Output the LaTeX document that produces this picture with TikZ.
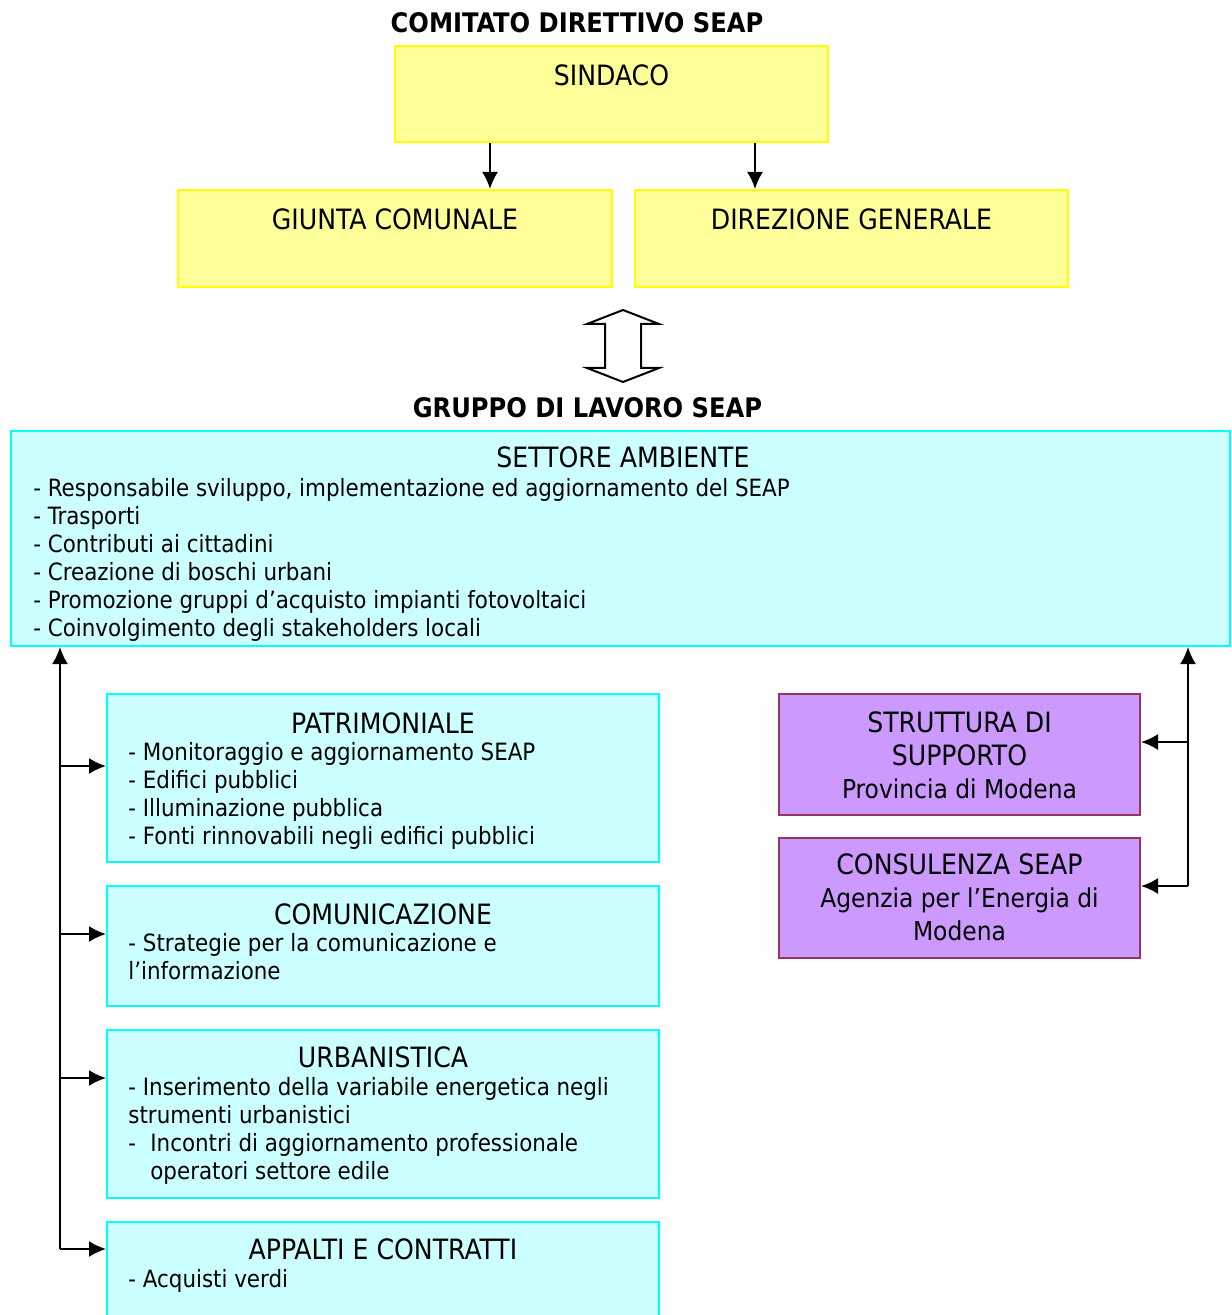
\documentclass[tikz,border=0pt]{standalone}
\usepackage{fontspec}
\setmainfont{DejaVu Sans Condensed}
\usetikzlibrary{calc,positioning,arrows.meta}

\definecolor{yfill}{HTML}{FFFF99}
\definecolor{yline}{HTML}{FFFF00}
\definecolor{cfill}{HTML}{CCFFFF}
\definecolor{cline}{HTML}{00FFFF}
\definecolor{pfill}{HTML}{CC99FF}
\definecolor{pline}{HTML}{993366}

\newcommand{\bodysize}{\fontsize{11.9}{14}\selectfont}
\newcommand{\titlesize}{\fontsize{14}{16.5}\selectfont}
\newcommand{\subsize}{\fontsize{13}{16.5}\selectfont}
\newcommand{\headsize}{\fontsize{13.45}{16.5}\selectfont}

\begin{document}
\begin{tikzpicture}[x=0.5pt,y=-0.5pt]

\tikzstyle{ybox} = [rectangle, draw=yline, fill=yfill, line width=1pt, inner sep=0]
\tikzstyle{cbox} = [rectangle, draw=cline, fill=cfill, line width=1pt, inner sep=0]
\tikzstyle{pbox} = [rectangle, draw=pline, fill=pfill, line width=1pt, inner sep=0]
\tikzstyle{head} = [anchor=base, inner sep=0, font=\bfseries\headsize]
\tikzstyle{ttl} = [anchor=base, inner sep=0, font=\titlesize]
\tikzstyle{sub} = [anchor=base, inner sep=0, font=\subsize]
\tikzstyle{itm} = [anchor=base west, inner sep=0, font=\bodysize]
\tikzstyle{orgarc} = [-{Latex[length=8.5pt,width=8pt]}, line width=1pt]

\useasboundingbox (0,0) rectangle (1231,1315);

% comitato direttivo
\node[head] (comitato) at (577,33) {COMITATO DIRETTIVO SEAP};
\node[ybox, minimum width=216.5pt, minimum height=48pt] (sindaco) at (611.5,94) {};
\node[ybox, minimum width=217pt, minimum height=48.5pt] (giunta) at (395,238.5) {};
\node[ybox, minimum width=216.5pt, minimum height=48.5pt] (direzione) at (851.5,238.5) {};
\node[ttl] (sindaco-t) at (611.5,86) {SINDACO};
\node[ttl] (giunta-t) at (395,230) {GIUNTA COMUNALE};
\node[ttl] (direzione-t) at (851.5,230) {DIREZIONE GENERALE};

\coordinate (down1) at (490,0);
\coordinate (down2) at (755,0);
\draw[orgarc] (sindaco.south -| down1) -- (giunta.north -| down1);
\draw[orgarc] (sindaco.south -| down2) -- (direzione.north -| down2);

% double arrow
\draw[line width=1pt] (623,310) -- (659,324) -- (641,324) -- (641,368) -- (659,368)
    -- (623,382) -- (587,368) -- (605,368) -- (605,324) -- (587,324) -- cycle;

% gruppo di lavoro
\node[head] (gruppo) at (587.5,418) {GRUPPO DI LAVORO SEAP};
\node[cbox, minimum width=609.5pt, minimum height=107.5pt] (ambiente) at (620.5,538.5) {};
\node[ttl] (ambiente-t) at (623,467) {SETTORE AMBIENTE};
\begin{scope}
\clip (12,432) rectangle (1229,640);
\foreach \t [count=\i from 0] in {{- Responsabile sviluppo, implementazione ed aggiornamento del SEAP},
    {- Trasporti}, {- Contributi ai cittadini}, {- Creazione di boschi urbani},
    {- Promozione gruppi d’acquisto impianti fotovoltaici},
    {- Coinvolgimento degli stakeholders locali}}
  \node[itm] (ambiente-\i) at (33,496+28*\i) {\t};
\end{scope}

\node[cbox, minimum width=276pt, minimum height=84pt] (patr) at (383,778) {};
\node[ttl] (patr-t) at (383,733) {PATRIMONIALE};
\foreach \t [count=\i from 0] in {{- Monitoraggio e aggiornamento SEAP}, {- Edifici pubblici},
    {- Illuminazione pubblica}, {- Fonti rinnovabili negli edifici pubblici}}
  \node[itm] (patr-\i) at (128,760+28*\i) {\t};

\node[cbox, minimum width=276pt, minimum height=60pt] (comun) at (383,946) {};
\node[ttl] (comun-t) at (383,924) {COMUNICAZIONE};
\node[itm] (comun-0) at (128,951) {- Strategie per la comunicazione e};
\node[itm] (comun-1) at (128,979) {l’informazione};

\node[cbox, minimum width=276pt, minimum height=84pt] (urban) at (383,1114) {};
\node[ttl] (urban-t) at (383,1067) {URBANISTICA};
\node[itm] (urban-0) at (128,1095) {- Inserimento della variabile energetica negli};
\node[itm] (urban-1) at (128,1123) {strumenti urbanistici};
\node[itm] (urban-2) at (128,1151) {-};
\node[itm] (urban-3) at (150,1151) {Incontri di aggiornamento professionale};
\node[itm] (urban-4) at (150,1179) {operatori settore edile};

\node[cbox, minimum width=276pt, minimum height=60pt] (appalti) at (383,1282) {};
\node[ttl] (appalti-t) at (383,1259) {APPALTI E CONTRATTI};
\node[itm] (appalti-0) at (128,1287) {- Acquisti verdi};

% supporto esterno
\node[pbox, minimum width=180.5pt, minimum height=60.5pt] (strutt) at (959.5,754.5) {};
\node[ttl] (strutt-0) at (959.5,732) {STRUTTURA DI};
\node[ttl] (strutt-1) at (959.5,765) {SUPPORTO};
\node[sub] (strutt-2) at (959.5,798) {Provincia di Modena};

\node[pbox, minimum width=180.5pt, minimum height=60pt] (consul) at (959.5,898) {};
\node[ttl] (consul-0) at (959.5,874) {CONSULENZA SEAP};
\node[sub] (consul-1) at (959.5,907) {Agenzia per l’Energia di};
\node[sub] (consul-2) at (959.5,940) {Modena};

% left bus
\coordinate (lbus) at (60,1249);
\draw[orgarc] (lbus) -- (lbus |- ambiente.south);
\foreach \b/\y in {patr/766, comun/934, urban/1078, appalti/1249} {
  \coordinate (lbus-\b) at (60,\y);
  \draw[orgarc] (lbus-\b) -- (lbus-\b -| \b.west);
}

% right bus
\coordinate (rbus) at (1188,886);
\draw[orgarc] (rbus) -- (rbus |- ambiente.south);
\foreach \b/\y in {strutt/742, consul/886} {
  \coordinate (rbus-\b) at (1188,\y);
  \draw[orgarc] (rbus-\b) -- (rbus-\b -| \b.east);
}

\end{tikzpicture}
\end{document}
